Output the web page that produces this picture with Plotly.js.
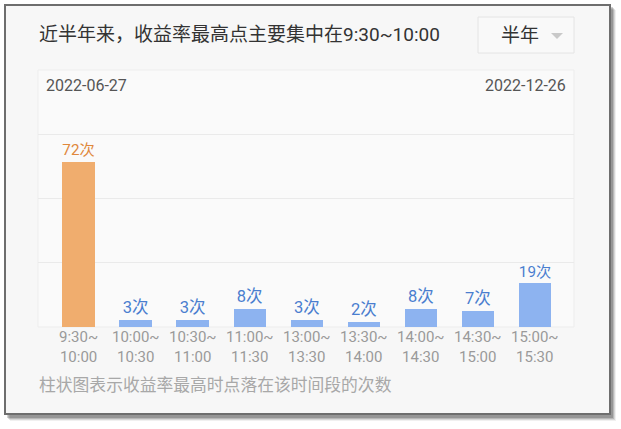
<!DOCTYPE html>
<html><head><meta charset="utf-8">
<script src="https://cdn.plot.ly/plotly-3.0.1.min.js"></script>
<style>html,body{margin:0;padding:0;background:#fff;}#chart{width:621px;height:429px;}</style>
</head><body><div id="chart"></div>
<script>
// ---- data ----
const categories = ['9:30~10:00','10:00~10:30','10:30~11:00','11:00~11:30','13:00~13:30','13:30~14:00','14:00~14:30','14:30~15:00','15:00~15:30'];
const counts = [72, 3, 3, 8, 3, 2, 8, 7, 19];
const titleText = '近半年来，收益率最高点主要集中在9:30~10:00';
const periodText = '半年';
const startDate = '2022-06-27';
const endDate = '2022-12-26';
const footerText = '柱状图表示收益率最高时点落在该时间段的次数';
const unit = '次';

// ---- layout helpers ----
const W = 621, H = 429;
const PL = 38, PR = 574, PT = 70, PB = 327;
const fx = x => (x - PL) / (PR - PL);
const fy = y => (PB - y) / (PB - PT);
const FONT = 'Roboto, "Noto Sans CJK SC", sans-serif';

const maxIdx = counts.indexOf(Math.max(...counts));
const barColors = counts.map((v, i) => i === maxIdx ? '#F0AD6E' : '#8DB3F0');
const textColors = counts.map((v, i) => i === maxIdx ? '#E0883C' : '#4A7ECF');

const trace = {
  type: 'bar',
  x: categories,
  y: counts,
  width: 0.567,
  marker: {color: barColors, line: {width: 0}},
  text: counts.map(v => v + unit),
  textposition: 'outside',
  textfont: {family: FONT, size: 16.5, color: textColors},
  cliponaxis: false,
  hoverinfo: 'skip'
};

function rect(x0, y0, x1, y1, fill, line, lw) {
  return {type: 'rect', xref: 'paper', yref: 'paper', layer: 'below',
    x0: fx(x0), x1: fx(x1), y0: fy(y1), y1: fy(y0),
    fillcolor: fill, line: {color: line || 'rgba(0,0,0,0)', width: lw || 0}};
}
function ann(text, x, y, xanchor, size, color) {
  return {text: text, xref: 'paper', yref: 'paper', x: fx(x), y: fy(y),
    xanchor: xanchor, yanchor: 'middle', showarrow: false, borderpad: 0,
    font: {family: FONT, size: size, color: color}};
}
const tri = `M ${fx(551)} ${fy(33)} L ${fx(563)} ${fy(33)} L ${fx(557)} ${fy(39)} Z`;

// two-line category labels, positioned on the category axis
const tickAnns = categories.map(c => {
  const p = c.split('~');
  return {text: p[0] + '~<br>' + p[1], xref: 'x', yref: 'paper', x: c, y: fy(346.5),
    xanchor: 'center', yanchor: 'middle', showarrow: false, borderpad: 0,
    font: {family: FONT, size: 15, color: '#9A9A9A'}};
});

const layout = {
  width: W, height: H,
  margin: {l: PL, r: W - PR, t: PT, b: H - PB, pad: 0},
  paper_bgcolor: '#ffffff',
  plot_bgcolor: 'rgba(0,0,0,0)',
  showlegend: false,
  bargap: 0,
  xaxis: {
    type: 'category',
    range: [-0.71, 8.683],
    showticklabels: false,
    showgrid: false, zeroline: false, showline: false, ticks: '',
    fixedrange: true
  },
  yaxis: {
    range: [0, 112], dtick: 28,
    showticklabels: false, showgrid: true, gridcolor: '#EAEAEA', gridwidth: 1,
    zeroline: false, showline: false, ticks: '', fixedrange: true
  },
  shapes: [
    rect(10, 10, 616, 421, 'rgba(0,0,0,0.06)'),
    rect(9, 9, 615, 420, 'rgba(0,0,0,0.10)'),
    rect(8, 8, 614, 419, 'rgba(0,0,0,0.14)'),
    rect(7, 7, 613, 418, 'rgba(0,0,0,0.18)'),
    rect(5, 5, 610, 414, '#F7F7F7', '#6E6E6E', 2),
    rect(478, 17, 574, 53, '#F9F9F9', '#E4E4E4', 1),
    {type: 'path', xref: 'paper', yref: 'paper', layer: 'below', path: tri, fillcolor: '#C9C9C9', line: {width: 0}},
    rect(38, 70, 574, 327, '#FAFAFA', '#EDEDED', 1)
  ],
  annotations: [
    ann(titleText, 38, 34, 'left', 19, '#333333'),
    ann(periodText, 520, 35, 'center', 19, '#333333'),
    ann(startDate, 45, 85, 'left', 16, '#555555'),
    ann(endDate, 567, 85, 'right', 16, '#555555'),
    ann(footerText, 38, 385, 'left', 16.8, '#A8A8A8')
  ].concat(tickAnns)
};

Plotly.newPlot('chart', [trace], layout, {displayModeBar: false, staticPlot: true});
</script></body></html>
